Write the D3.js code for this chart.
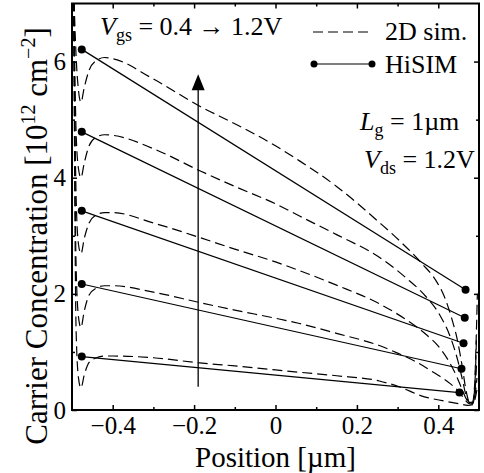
<!DOCTYPE html>
<html>
<head>
<meta charset="utf-8">
<script src="https://cdn.jsdelivr.net/npm/d3@7"></script>
<style>
  body { margin: 0; background: #fff; }
  svg { font-family: "Liberation Serif", "Times New Roman", serif; }
</style>
</head>
<body>
<svg width="484" height="473"></svg>
<script>
// HiSIM end points (Vgs = 0.4, 0.6, 0.8, 1.0, 1.2 V)
const hisimLeftX = [-0.476, -0.476, -0.476, -0.476, -0.476];
const hisimLeftY = [0.92, 2.17, 3.43, 4.79, 6.21];
const hisimRightX = [0.452, 0.457, 0.462, 0.465, 0.467];
const hisimRightY = [0.30, 0.71, 1.15, 1.59, 2.07];

// 2D simulation curves, [position, concentration]
const sim04 = [[-0.496,7.3],[-0.490,1.4],[-0.484,0.55],[-0.478,0.38],[-0.470,0.6],[-0.458,0.82],[-0.44,0.9],[-0.42,0.93],[-0.40,0.93],[-0.30,0.9],[-0.186,0.81],[-0.1,0.76],[0,0.69],[0.059,0.65],[0.15,0.59],[0.255,0.5],[0.304,0.4],[0.36,0.24],[0.41,0.16],[0.45,0.11],[0.472,0.08],[0.484,0.09],[0.49,0.18],[0.495,0.35]];
const sim06 = [[-0.496,7.3],[-0.490,2.5],[-0.484,1.6],[-0.478,1.42],[-0.470,1.7],[-0.458,1.98],[-0.44,2.1],[-0.42,2.14],[-0.40,2.14],[-0.30,2.03],[-0.186,1.85],[-0.1,1.72],[0,1.58],[0.059,1.49],[0.15,1.32],[0.255,1.11],[0.30,0.98],[0.345,0.83],[0.39,0.64],[0.43,0.45],[0.45,0.32],[0.463,0.2],[0.473,0.12],[0.482,0.1],[0.488,0.15],[0.492,0.35],[0.495,0.55]];
const sim08 = [[-0.496,7.3],[-0.490,3.7],[-0.484,2.85],[-0.478,2.69],[-0.470,2.95],[-0.458,3.22],[-0.44,3.36],[-0.42,3.40],[-0.40,3.40],[-0.30,3.22],[-0.186,2.97],[-0.1,2.77],[0,2.55],[0.059,2.40],[0.15,2.15],[0.255,1.83],[0.32,1.56],[0.37,1.3],[0.40,1.1],[0.425,0.85],[0.445,0.58],[0.458,0.36],[0.468,0.2],[0.477,0.12],[0.485,0.12],[0.49,0.3],[0.494,0.8]];
const sim10 = [[-0.496,7.3],[-0.490,4.8],[-0.484,4.15],[-0.478,4.0],[-0.470,4.25],[-0.458,4.55],[-0.44,4.7],[-0.42,4.74],[-0.40,4.73],[-0.30,4.5],[-0.186,4.12],[-0.1,3.85],[0,3.55],[0.059,3.34],[0.15,3.02],[0.255,2.63],[0.32,2.28],[0.37,1.95],[0.405,1.62],[0.43,1.25],[0.448,0.85],[0.46,0.5],[0.468,0.25],[0.477,0.13],[0.485,0.14],[0.49,0.45],[0.494,1.3]];
const sim12 = [[-0.496,7.3],[-0.490,6.1],[-0.484,5.5],[-0.478,5.3],[-0.470,5.55],[-0.458,5.85],[-0.44,6.02],[-0.42,6.07],[-0.40,6.05],[-0.30,5.7],[-0.186,5.23],[-0.1,4.93],[0,4.55],[0.059,4.29],[0.15,3.85],[0.255,3.23],[0.304,2.92],[0.36,2.52],[0.395,2.22],[0.415,1.95],[0.432,1.6],[0.447,1.2],[0.459,0.74],[0.467,0.38],[0.475,0.15],[0.483,0.1],[0.489,0.4],[0.493,1.2],[0.496,2.0]];
const simCurves = [sim04, sim06, sim08, sim10, sim12];

const xMajor = [-0.4, -0.2, 0, 0.2, 0.4];
const xMinor = [-0.3, -0.1, 0.1, 0.3];
const yMajor = [0, 2, 4, 6];
const yMinor = [1, 3, 5];

const svg = d3.select('svg');
const pLeft = 72, pRight = 479, pTop = 3.5, pBottom = 410;

let x = d3.scaleLinear().domain([-0.5, 0.5]).range([pLeft, pRight]);
let y = d3.scaleLinear().domain([0, 7]).range([pBottom, pTop]);

svg.append('clipPath').attr('id', 'clip')
  .append('rect')
  .attr('x', pLeft).attr('y', pTop)
  .attr('width', pRight - pLeft).attr('height', pBottom - pTop);

// axes, ticks pointing inward
let xFmt = d => d === 0 ? '0' : d3.format('.1f')(d);
let yFmt = d3.format('d');

function ticks(axis, tx, ty, size, vals, labels, pad) {
  let g = svg.append('g')
    .attr('transform', `translate(${tx},${ty})`)
    .call(axis.tickValues(vals).tickSize(-size).tickPadding(pad || 0)
      .tickFormat(labels || ''));
  g.select('.domain').remove();
  g.selectAll('line').attr('stroke', '#000').attr('stroke-width', 1.5);
  g.selectAll('text').attr('font-size', 25).attr('fill', '#000')
    .attr('font-family', '"Liberation Serif", "Times New Roman", serif');
  return g;
}
ticks(d3.axisBottom(x), 0, pBottom, 5, xMajor, xFmt, 6);
ticks(d3.axisBottom(x), 0, pBottom, 3, xMinor, null);
ticks(d3.axisTop(x), 0, pTop, 5, xMajor, null);
ticks(d3.axisTop(x), 0, pTop, 3, xMinor, null);
ticks(d3.axisLeft(y), pLeft, 0, 5, yMajor, yFmt, 6);
ticks(d3.axisLeft(y), pLeft, 0, 3, yMinor, null);
ticks(d3.axisRight(y), pRight, 0, 5, yMajor, null);
ticks(d3.axisRight(y), pRight, 0, 3, yMinor, null);

let plot = svg.append('g').attr('clip-path', 'url(#clip)');

// 2D sim dashed curves
let simLine = d3.line()
  .x(d => x(d[0]))
  .y(d => y(d[1]))
  .curve(d3.curveMonotoneX);

plot.selectAll('.sim')
  .data(simCurves)
  .enter()
  .append('path')
  .attr('class', 'sim')
  .attr('d', simLine)
  .attr('fill', 'none')
  .attr('stroke', '#000')
  .attr('stroke-width', 1.2)
  .attr('stroke-dasharray', '10,5');

// HiSIM lines + dots
let hisim = hisimLeftY.map((v, i) => [[hisimLeftX[i], v], [hisimRightX[i], hisimRightY[i]]]);

plot.selectAll('.hisim')
  .data(hisim)
  .enter()
  .append('path')
  .attr('class', 'hisim')
  .attr('d', d3.line().x(d => x(d[0])).y(d => y(d[1])))
  .attr('fill', 'none')
  .attr('stroke', '#000')
  .attr('stroke-width', 1.2);

plot.selectAll('.dot')
  .data(hisim.flat())
  .enter()
  .append('circle')
  .attr('cx', d => x(d[0]))
  .attr('cy', d => y(d[1]))
  .attr('r', 4)
  .attr('fill', '#000');

// arrow Vgs increasing
const arrowX = -0.19, arrowFrom = 0.4, arrowTo = 5.78;
svg.append('line')
  .attr('x1', x(arrowX)).attr('x2', x(arrowX))
  .attr('y1', y(arrowFrom)).attr('y2', y(arrowTo) + 10)
  .attr('stroke', '#000').attr('stroke-width', 1.3);
svg.append('path')
  .attr('d', `M${x(arrowX)},${y(arrowTo)} l6.5,16 l-13,0 z`)
  .attr('fill', '#000');

// frame
svg.append('rect')
  .attr('x', pLeft).attr('y', pTop)
  .attr('width', pRight - pLeft).attr('height', pBottom - pTop)
  .attr('fill', 'none').attr('stroke', '#000').attr('stroke-width', 2);

// annotations
function subLabel(px, py, main, sub, rest) {
  let t = svg.append('text').attr('x', px).attr('y', py).attr('font-size', 26).attr('fill', '#000');
  t.append('tspan').attr('font-style', 'italic').text(main);
  t.append('tspan').attr('font-size', 18).attr('dy', 6).text(sub);
  t.append('tspan').attr('dy', -6).text(rest);
}
subLabel(100, 35, 'V', 'gs', ' = 0.4 \u2192 1.2V');
subLabel(360, 130, 'L', 'g', ' = 1\u00b5m');
subLabel(364, 168, 'V', 'ds', ' = 1.2V');

// legend
svg.append('line')
  .attr('x1', 313).attr('x2', 373).attr('y1', 32).attr('y2', 32)
  .attr('stroke', '#000').attr('stroke-width', 1.2).attr('stroke-dasharray', '10,5');
svg.append('text').attr('x', 385).attr('y', 40).attr('font-size', 26).text('2D sim.');
svg.append('line')
  .attr('x1', 314).attr('x2', 372).attr('y1', 64).attr('y2', 64)
  .attr('stroke', '#000').attr('stroke-width', 1.2);
svg.selectAll('.ldot').data([314, 372]).enter().append('circle')
  .attr('cx', d => d).attr('cy', 64).attr('r', 3.5).attr('fill', '#000');
svg.append('text').attr('x', 385).attr('y', 73).attr('font-size', 26).text('HiSIM');

// axis titles
svg.append('text')
  .attr('x', (pLeft + pRight) / 2).attr('y', 467)
  .attr('text-anchor', 'middle').attr('font-size', 29)
  .text('Position [\u00b5m]');

let yt = svg.append('text')
  .attr('transform', 'translate(47,236) rotate(-90)')
  .attr('text-anchor', 'middle').attr('font-size', 31);
yt.append('tspan').text('Carrier Concentration [10');
yt.append('tspan').attr('font-size', 20).attr('dy', -12).text('12');
yt.append('tspan').attr('dy', 12).text(' cm');
yt.append('tspan').attr('font-size', 20).attr('dy', -12).text('\u22122');
yt.append('tspan').attr('dy', 12).text(']');
</script>
</body>
</html>
